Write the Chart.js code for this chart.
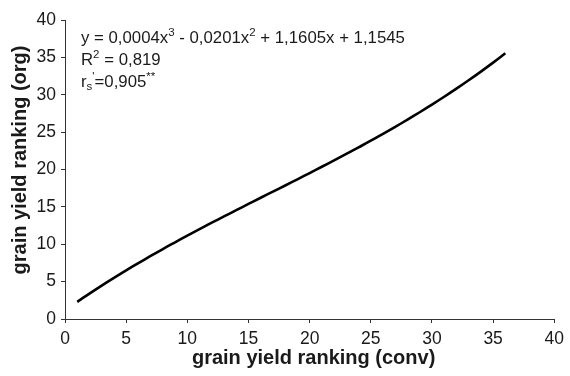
<!DOCTYPE html>
<html>
<head>
<meta charset="utf-8">
<script src="https://cdn.jsdelivr.net/npm/chart.js@4/dist/chart.umd.min.js"></script>
<style>
  html, body { margin: 0; padding: 0; background: #fff; }
  #wrap { width: 570px; height: 376px; }
</style>
</head>
<body>
<div id="wrap"><canvas id="c" width="570" height="376"></canvas></div>
<script>
// Cubic trend of organic vs. conventional grain yield ranking
const convRank = [1, 2, 3, 4, 5, 6, 7, 8, 9, 10, 11, 12, 13, 14, 15, 16, 17, 18,
                  19, 20, 21, 22, 23, 24, 25, 26, 27, 28, 29, 30, 31, 32, 33, 34, 35, 36];
const orgRank = [2.30, 3.40, 4.47, 5.50, 6.50, 7.48, 8.43, 9.36, 10.26, 11.15, 12.02, 12.88,
                 13.72, 14.56, 15.39, 16.22, 17.04, 17.86, 18.69, 19.52, 20.37, 21.22,
                 22.08, 22.96, 23.85, 24.77, 25.71, 26.67, 27.66, 28.68, 29.73, 30.82,
                 31.94, 33.10, 34.30, 35.55];
const xTicks = [0, 5, 10, 15, 20, 25, 30, 35, 40];
const yTicks = [0, 5, 10, 15, 20, 25, 30, 35, 40];
const xTitle = 'grain yield ranking (conv)';
const yTitle = 'grain yield ranking (org)';

const FONT = '"Liberation Sans", Arial, Helvetica, sans-serif';
const INK = '#1a1a1a';

// Equation, R² and rank correlation, plus both axis titles
const textPlugin = {
  id: 'fitText',
  afterDraw(chart) {
    const ctx = chart.ctx;
    const area = chart.chartArea;
    ctx.save();
    ctx.fillStyle = INK;
    ctx.textBaseline = 'alphabetic';
    ctx.textAlign = 'left';

    const fs = 16.8;
    const small = 11.5;
    // draws a run of [text, kind] pieces; kind: n normal, sup, sub
    function run(parts, x, y) {
      for (const [t, kind] of parts) {
        let dy = 0;
        if (kind === 'sup') { ctx.font = small + 'px ' + FONT; dy = -7; }
        else if (kind === 'sub') { ctx.font = small + 'px ' + FONT; dy = 3; }
        else { ctx.font = fs + 'px ' + FONT; }
        ctx.fillText(t, x, y + dy);
        x += ctx.measureText(t).width;
      }
    }
    const x0 = area.left + 16;
    run([['y = 0,0004x', 'n'], ['3', 'sup'], [' - 0,0201x', 'n'], ['2', 'sup'],
         [' + 1,1605x + 1,1545', 'n']], x0, area.top + 22.5);
    run([['R', 'n'], ['2', 'sup'], [' = 0,819', 'n']], x0, area.top + 45);
    run([['r', 'n'], ['s', 'sub'], ["'", 'sup'], ['=0,905', 'n'], ['**', 'sup']], x0, area.top + 67);

    // axis titles
    ctx.font = 'bold 20px ' + FONT;
    ctx.textAlign = 'center';
    ctx.textBaseline = 'middle';
    ctx.fillText(xTitle, (area.left + area.right) / 2 + 4, 358);
    ctx.translate(20, 160);
    ctx.rotate(-Math.PI / 2);
    ctx.fillText(yTitle, 0, 0);
    ctx.restore();
  }
};

new Chart(document.getElementById('c'), {
  type: 'scatter',
  data: {
    datasets: [{
      data: convRank.map((x, i) => ({ x: x, y: orgRank[i] })),
      showLine: true,
      borderColor: '#000',
      borderWidth: 2.6,
      pointRadius: 0,
      tension: 0.4,
      fill: false
    }]
  },
  options: {
    responsive: false,
    animation: false,
    devicePixelRatio: 1,
    layout: { padding: { top: 20, right: 14, left: 0, bottom: 0 } },
    plugins: { legend: { display: false }, tooltip: { enabled: false } },
    scales: {
      x: {
        type: 'linear',
        min: 0, max: 40,
        afterBuildTicks(s) { s.ticks = xTicks.map(v => ({ value: v })); },
        afterFit(s) { s.height = 57; },
        border: { display: true, color: '#333', width: 1 },
        grid: { drawOnChartArea: false, tickLength: 4, color: '#333' },
        ticks: { color: INK, font: { family: FONT, size: 17.5 }, padding: 6, maxRotation: 0 }
      },
      y: {
        type: 'linear',
        min: 0, max: 40,
        afterBuildTicks(s) { s.ticks = yTicks.map(v => ({ value: v })); },
        afterFit(s) { s.width = 65; },
        border: { display: true, color: '#333', width: 1 },
        grid: { drawOnChartArea: false, tickLength: 4, color: '#333' },
        ticks: { color: INK, font: { family: FONT, size: 17.5 }, padding: 5 }
      }
    }
  },
  plugins: [textPlugin]
});
</script>
</body>
</html>
